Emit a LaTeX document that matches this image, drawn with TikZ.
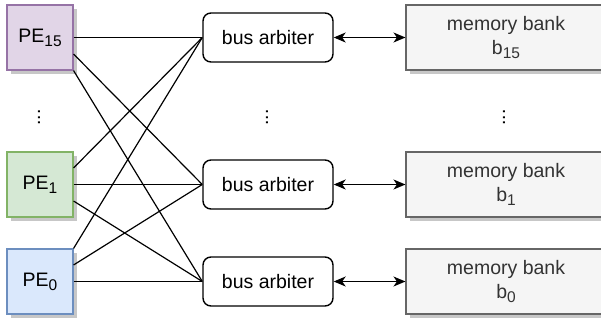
\documentclass[tikz,border=0pt]{standalone}
\usepackage{fontspec}
\setmainfont{Liberation Sans}
\usetikzlibrary{calc,arrows.meta,shadows}
\definecolor{purfill}{HTML}{E1D5E7}\definecolor{purdraw}{HTML}{9673A6}
\definecolor{grnfill}{HTML}{D5E8D4}\definecolor{grndraw}{HTML}{82B366}
\definecolor{blufill}{HTML}{DAE8FC}\definecolor{bludraw}{HTML}{6C8EBF}
\definecolor{memfill}{HTML}{F5F5F5}\definecolor{memdraw}{HTML}{666666}
\definecolor{memtext}{HTML}{333333}
\newcommand{\mysub}[1]{\raisebox{-4pt}{\fontsize{15.5}{16}\selectfont #1}}
\tikzset{
  shad/.style={drop shadow={shadow xshift=4pt,shadow yshift=-4pt,fill=black!22,opacity=1}},
  pebox/.style={draw,line width=1.1pt,minimum width=66,minimum height=65,inner sep=0pt,shad},
  arbbox/.style={draw,line width=1.4pt,rounded corners=8pt,minimum width=130,minimum height=49,inner sep=0pt,fill=white},
  membox/.style={draw=memdraw,fill=memfill,text=memtext,line width=1.1pt,minimum width=200,minimum height=65,inner sep=0pt,align=center,shad},
  wire/.style={line width=1.2pt,black},
  biarrow/.style={line width=1.2pt,{Stealth[length=12pt,width=10pt,inset=3.5pt]}-{Stealth[length=12pt,width=10pt,inset=3.5pt]}},
  dotsnode/.style={rotate=90,inner sep=0pt}
}
\begin{document}
\begin{tikzpicture}[x=1pt,y=-1pt,font=\fontsize{19.5}{24}\selectfont]
\useasboundingbox (0,0) rectangle (601,324);
% PEs
\node[pebox,fill=purfill,draw=purdraw] (pe15) at (40,37.5) {PE\mysub{15}};
\node[pebox,fill=grnfill,draw=grndraw] (pe1) at (40,184.5) {PE\mysub{1}};
\node[pebox,fill=blufill,draw=bludraw] (pe0) at (40,281.5) {PE\mysub{0}};
% arbiters
\node[arbbox] (a15) at (268,37.5) {bus arbiter};
\node[arbbox] (a1) at (268,184.5) {bus arbiter};
\node[arbbox] (a0) at (268,281.5) {bus arbiter};
% memory
\node[membox] (m15) at (506,37.5) {memory bank\\b\mysub{15}};
\node[membox] (m1) at (506,184.5) {memory bank\\b\mysub{1}};
\node[membox] (m0) at (506,281.5) {memory bank\\b\mysub{0}};
% dots
\node[dotsnode] (d1) at (39,117.5) {...};
\node[dotsnode] (d2) at (267,117.5) {...};
\node[dotsnode] (d3) at (504,117.5) {...};
% wires
\draw[wire] (pe15.east) -- (a15.west);
\draw[wire] ($(pe15.north east)!0.75!(pe15.south east)$) -- (a1.west);
\draw[wire] (pe15.south east) -- (a0.west);
\draw[wire] ($(pe1.north east)!0.25!(pe1.south east)$) -- (a15.west);
\draw[wire] (pe1.east) -- (a1.west);
\draw[wire] ($(pe1.north east)!0.75!(pe1.south east)$) -- (a0.west);
\draw[wire] (pe0.north east) -- (a15.west);
\draw[wire] ($(pe0.north east)!0.25!(pe0.south east)$) -- (a1.west);
\draw[wire] (pe0.east) -- (a0.west);
% arrows
\draw[biarrow] (a15.east) -- (m15.west);
\draw[biarrow] (a1.east) -- (m1.west);
\draw[biarrow] (a0.east) -- (m0.west);
\end{tikzpicture}
\end{document}
